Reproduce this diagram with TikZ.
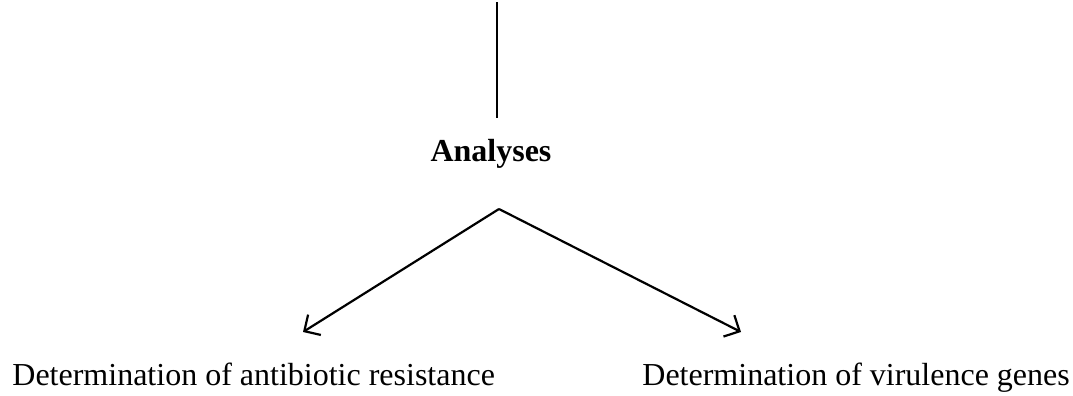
\documentclass[tikz,border=0pt]{standalone}
\usepackage{fontspec}
\setmainfont{Liberation Serif}
\usetikzlibrary{arrows.meta}
\begin{document}
\begin{tikzpicture}[x=0.5pt,y=-0.5pt]
  \useasboundingbox (0,0) rectangle (1073,396);
  \begin{scope}[every node/.style={inner sep=0pt,font=\fontsize{16}{20}\selectfont}]
    \node[anchor=base] (analyses) at (491,161) {\textbf{Analyses}};
    \node[anchor=base west] (resist) at (12,385) {Determination of antibiotic resistance};
    \node[anchor=base west] (virul) at (642,385) {Determination of virulence genes};
  \end{scope}
  \coordinate (top) at (497,2);
  \coordinate (stem) at (497,118);
  \coordinate (apex) at (499,209);
  \coordinate (tipl) at (303,332);
  \coordinate (tipr) at (741,332);
  \begin{scope}[line width=1.1pt]
    \draw (top) -- (stem);
    \draw[-{Straight Barb[length=6pt,width=12pt]}] (apex) -- (tipl);
    \draw[-{Straight Barb[length=6pt,width=12pt]}] (apex) -- (tipr);
  \end{scope}
\end{tikzpicture}
\end{document}
